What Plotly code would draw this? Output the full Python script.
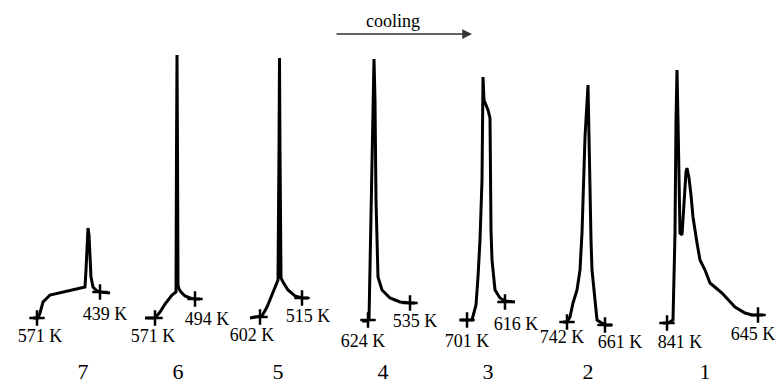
import plotly.graph_objects as go

# ---- data (pixel-like coordinates, y grows downward) ----
curve7_x = [33, 38, 40, 43, 50, 63, 82, 85, 86, 87, 88, 89, 90, 91, 93, 97, 100, 110]
curve7_y = [318, 318, 313, 302, 295, 292, 288, 287, 270, 240, 228, 235, 265, 277, 287, 291, 292, 293]

curve6_x = [145, 150, 155, 160, 165, 172, 176, 176.5, 177, 177.5, 178, 179, 181, 185, 190, 195, 200]
curve6_y = [318, 318, 318, 312, 304, 295, 292, 150, 55, 150, 285, 289, 292, 296, 298, 299, 299]

curve5_x = [250, 256, 262, 267, 273, 278, 279, 279.5, 280, 281, 283, 288, 295, 302, 308]
curve5_y = [318, 317, 316, 307, 293, 280, 150, 58, 150, 278, 282, 290, 296, 298, 298]

curve4_x = [362, 366, 369, 371, 373, 374, 375, 376, 378, 382, 390, 400, 410, 415]
curve4_y = [321, 321, 320, 200, 100, 59, 100, 200, 277, 290, 298, 302, 303, 303]

curve3_x = [460, 467, 472, 476, 477, 478, 480, 482, 483, 484, 486, 487, 488, 490, 490.5, 491, 492, 495, 500, 505, 515]
curve3_y = [320, 320, 320, 305, 293, 277, 240, 180, 77, 100, 105, 107, 110, 118, 177, 230, 260, 290, 298, 301, 302]

curve2_x = [563, 567, 570, 573, 577, 580, 582, 583, 585, 588, 589, 590, 591, 592, 595, 597, 605, 612]
curve2_y = [322, 322, 317, 303, 290, 270, 233, 203, 137, 85, 150, 203, 240, 270, 303, 320, 325, 325]

curve1_x = [663, 668, 673, 674, 675, 676, 677, 678, 679, 680, 682, 684, 686, 687, 689, 691, 693, 697,
            700, 705, 710, 716, 722, 735, 745, 752, 758, 763]
curve1_y = [323, 323, 320, 280, 233, 120, 70, 120, 200, 233, 235, 200, 172, 168, 178, 195, 217, 243,
            260, 270, 283, 288, 293, 307, 313, 315, 315, 315]

# start / end tick crosses
cross_x = [37, 100, 155, 195, 260, 302, 368, 410, 467, 505, 567, 605, 667, 758]
cross_y = [318, 292, 318, 299, 317, 298, 320, 303, 320, 302, 322, 325, 323, 315]

# temperature labels
temp_labels = ["571 K", "439 K", "571 K", "494 K", "602 K", "515 K", "624 K", "535 K",
               "701 K", "616 K", "742 K", "661 K", "841 K", "645 K"]
temp_x = [40, 105, 153, 207, 252, 308, 363, 415, 467, 516, 562, 620, 680, 753]
temp_y = [337, 315, 337, 320, 336, 317, 342, 322, 342, 325, 338, 343, 343, 335]

# curve numbers
num_labels = ["7", "6", "5", "4", "3", "2", "1"]
num_x = [83, 178, 278, 383, 488, 588, 705]
num_y = [373, 373, 373, 373, 373, 373, 373]

curves = [(curve7_x, curve7_y), (curve6_x, curve6_y), (curve5_x, curve5_y),
          (curve4_x, curve4_y), (curve3_x, curve3_y), (curve2_x, curve2_y),
          (curve1_x, curve1_y)]

FONT = "Liberation Serif, Times New Roman, serif"

fig = go.Figure()
for cx, cy in curves:
    fig.add_trace(go.Scatter(x=cx, y=cy, mode="lines",
                             line=dict(color="black", width=3),
                             hoverinfo="skip", showlegend=False))

fig.add_trace(go.Scatter(x=cross_x, y=cross_y, mode="markers",
                         marker=dict(symbol="cross-thin", size=11,
                                     line=dict(width=2.5, color="black")),
                         hoverinfo="skip", showlegend=False))

fig.add_trace(go.Scatter(x=temp_x, y=temp_y, mode="text", text=temp_labels,
                         textfont=dict(family=FONT, size=18, color="black"),
                         cliponaxis=False, hoverinfo="skip", showlegend=False))

fig.add_trace(go.Scatter(x=num_x, y=num_y, mode="text", text=num_labels,
                         textfont=dict(family=FONT, size=22, color="black"),
                         cliponaxis=False, hoverinfo="skip", showlegend=False))

# cooling arrow
fig.add_annotation(x=472, y=34, ax=335, ay=34, xref="x", yref="y", axref="x", ayref="y",
                   showarrow=True, arrowhead=2, arrowsize=1.3, arrowwidth=1.5,
                   arrowcolor="#333333", text="")
fig.add_annotation(x=393, y=21, xref="x", yref="y", text="cooling", showarrow=False,
                   font=dict(family=FONT, size=18, color="black"))

fig.update_layout(
    width=778, height=385,
    margin=dict(l=0, r=0, t=0, b=0),
    paper_bgcolor="white", plot_bgcolor="white",
    xaxis=dict(range=[0, 778], visible=False, fixedrange=True),
    yaxis=dict(range=[385, 0], visible=False, fixedrange=True),
)

fig.write_html("out.html",
               config={"displayModeBar": False, "staticPlot": True},
               post_script="document.body.style.margin='0';document.body.style.overflow='hidden';")
